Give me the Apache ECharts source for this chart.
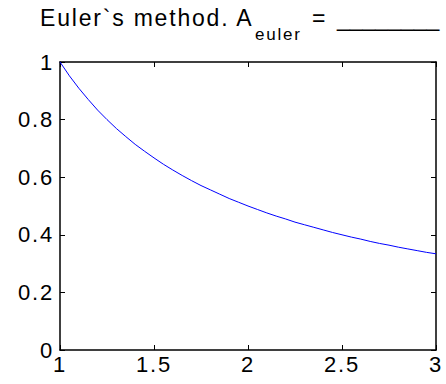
<!DOCTYPE html>
<html>
<head>
<meta charset="utf-8">
<script src="https://cdn.jsdelivr.net/npm/echarts@6/dist/echarts.min.js"></script>
<style>
  html, body { margin: 0; padding: 0; background: #fff; }
  #chart { width: 446px; height: 384px; }
  #chart svg text { letter-spacing: 1.8px; }
  #chart svg text[fill="#010101"], #chart svg text[fill="rgb(1,1,1)"], #chart svg text[fill="rgb(1, 1, 1)"] { letter-spacing: 0; }
</style>
</head>
<body>
<div id="chart"></div>
<script>
// x positions (t) and Euler solution values
const xValues = [1.00, 1.05, 1.10, 1.15, 1.20, 1.25, 1.30, 1.35, 1.40, 1.45, 1.50,
                 1.55, 1.60, 1.65, 1.70, 1.75, 1.80, 1.85, 1.90, 1.95, 2.00,
                 2.05, 2.10, 2.15, 2.20, 2.25, 2.30, 2.35, 2.40, 2.45, 2.50,
                 2.55, 2.60, 2.65, 2.70, 2.75, 2.80, 2.85, 2.90, 2.95, 3.00];
const yValues = [1.000, 0.952, 0.909, 0.870, 0.833, 0.800, 0.769, 0.741, 0.714, 0.690, 0.667,
                 0.645, 0.625, 0.606, 0.588, 0.571, 0.556, 0.541, 0.526, 0.513, 0.500,
                 0.488, 0.476, 0.465, 0.455, 0.444, 0.435, 0.426, 0.417, 0.408, 0.400,
                 0.392, 0.385, 0.377, 0.370, 0.364, 0.357, 0.351, 0.345, 0.339, 0.334];
const xTicks = [1, 1.5, 2, 2.5, 3];
const yTicks = [0, 0.2, 0.4, 0.6, 0.8, 1];
const titleMain = 'Euler`s method. A';
const titleSub = 'euler';
const titleEq = '=';
const titleBlank = '________';

const FONT = '"Liberation Sans", Arial, sans-serif';
const chart = echarts.init(document.getElementById('chart'), null, { renderer: 'svg' });

const axisLine = { show: true, onZero: false, lineStyle: { color: '#000', width: 1.5 } };
const tickIn = { show: true, inside: true, length: 5, lineStyle: { color: '#000', width: 1 } };
const tStyle = (size, color) => ({ fontFamily: FONT, fontSize: size, fontWeight: 'normal', color: color || '#000' });

chart.setOption({
  animation: false,
  backgroundColor: '#fff',
  title: [
    { text: titleMain, left: 40, top: 6, textStyle: tStyle(23), padding: 0 },
    { text: titleSub, left: 255, top: 26, textStyle: tStyle(17), padding: 0 },
    { text: titleEq, left: 312, top: 6, textStyle: tStyle(23), padding: 0 },
    { text: titleBlank, left: 337, top: 6, textStyle: tStyle(23, '#010101'), padding: 0 }
  ],
  grid: { left: 60, right: 10, top: 62, bottom: 34 },
  xAxis: [
    {
      type: 'value', min: 1, max: 3, interval: 0.5, position: 'bottom',
      axisLine: axisLine, axisTick: tickIn, splitLine: { show: false },
      axisLabel: {
        margin: 3, color: '#000', fontFamily: FONT, fontSize: 22,
        formatter: v => (xTicks.includes(v) ? String(v) : '')
      }
    },
    {
      type: 'value', min: 1, max: 3, interval: 0.5, position: 'top',
      axisLine: axisLine, axisTick: tickIn, splitLine: { show: false },
      axisLabel: { show: false }
    }
  ],
  yAxis: [
    {
      type: 'value', min: 0, max: 1, interval: 0.2, position: 'left',
      axisLine: axisLine, axisTick: tickIn, splitLine: { show: false },
      axisLabel: {
        margin: 6, color: '#000', fontFamily: FONT, fontSize: 22,
        formatter: v => { const t = yTicks.find(k => Math.abs(k - v) < 1e-9); return t === undefined ? '' : String(t); }
      }
    },
    {
      type: 'value', min: 0, max: 1, interval: 0.2, position: 'right',
      axisLine: axisLine, axisTick: tickIn, splitLine: { show: false },
      axisLabel: { show: false }
    }
  ],
  series: [{
    type: 'line',
    xAxisIndex: 0, yAxisIndex: 0,
    data: xValues.map((x, i) => [x, yValues[i]]),
    showSymbol: false,
    symbol: 'none',
    lineStyle: { color: '#0000ff', width: 1 },
    z: 1
  }]
});
</script>
</body>
</html>
